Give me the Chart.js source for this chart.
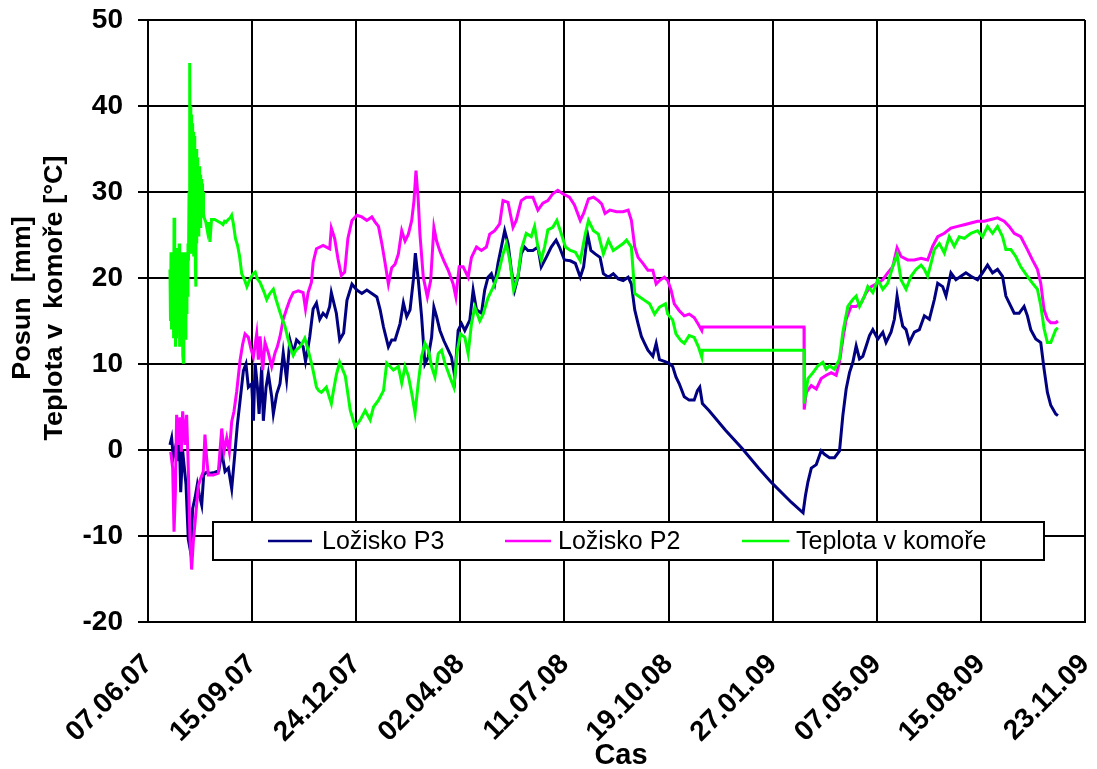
<!DOCTYPE html>
<html>
<head>
<meta charset="utf-8">
<script src="https://cdn.jsdelivr.net/npm/chart.js@4.4.0/dist/chart.umd.min.js"></script>
<style>html,body{margin:0;padding:0;background:#fff;}canvas{display:block;}</style>
</head>
<body>
<canvas id="c" width="1097" height="769"></canvas>
<script>
// x values are days since 07.06.07
const dateLabels = ['07.06.07','15.09.07','24.12.07','02.04.08','11.07.08','19.10.08','27.01.09','07.05.09','15.08.09','23.11.09'];
const seriesNames = ['Ložisko P3','Ložisko P2','Teplota v komoře'];
const seriesColors = ['#000080','#FF00FF','#00FF00'];

const loziskoP3 = [[21.1,0.6],[22.7,1.4],[24.3,-0.8],[26.9,0.6],[28.2,-1.3],[30.1,1.4],[31.4,-4.9],[33.3,-0.1],[34.6,-1.7],[36.5,-4.0],[38.7,-10.4],[41,-11.9],[42.9,-6.8],[45.1,-5.6],[47.4,-4.0],[49.3,-5.2],[51.6,-6.4],[53.5,-2.9],[56,-2.6],[60,-2.7],[64,-2.6],[68,-2.4],[70.8,-0.2],[74,-2.5],[77.2,-2.1],[80.4,-4.5],[83.6,-0.2],[85.8,2.9],[88.4,5.7],[91.6,9.2],[94.1,10.0],[96.4,7.3],[99.6,7.7],[101.3,3.4],[102.9,10.1],[105.1,7.3],[106.7,4.2],[109.2,9.7],[110.8,3.4],[113.4,7.3],[115.6,8.9],[118.8,6.2],[120.4,4.2],[123.6,6.5],[126.8,7.7],[129.9,11.3],[133.1,8.2],[136.3,12.8],[139.5,11.3],[142.7,12.8],[145.9,12.4],[149,12.0],[151.3,10.3],[153.8,12.0],[155.4,13.2],[158.6,16.4],[161.8,17.1],[165,15.2],[168.2,15.9],[171.3,15.5],[174.5,16.7],[176.1,18.3],[180.9,15.9],[184.1,12.8],[187.9,13.6],[191.1,17.4],[195.9,19.3],[200.6,18.6],[205.4,18.2],[210.2,18.6],[215,18.2],[219.8,17.8],[223,16.3],[226.2,14.3],[230.9,12.0],[234.1,12.8],[237.3,12.8],[242.1,14.7],[245.3,17.1],[248.5,15.5],[251.7,16.3],[254.9,19.8],[256.8,22.9],[259.6,19.8],[262.8,15.5],[266,10.0],[269.2,10.8],[272.4,13.1],[274.6,16.6],[277.2,15.5],[280.4,13.9],[284.2,12.7],[288.4,11.6],[291.5,10.8],[294.7,8.5],[297.9,13.9],[301.1,14.7],[304.3,13.9],[309.1,15.1],[312.3,18.6],[315.5,16.3],[320.3,15.9],[323.4,18.6],[326.6,20.1],[329.8,20.5],[333,19.3],[336.2,21.7],[339.4,23.6],[342.6,25.5],[345.8,24.0],[349,20.9],[352.2,18.6],[355.3,20.1],[358.5,22.8],[361.7,23.6],[364.9,23.2],[369.7,23.2],[374.5,23.6],[377.7,21.3],[382.5,22.4],[387.3,23.6],[392,24.4],[395.2,23.6],[400,22.1],[405.7,22.0],[410.5,21.7],[415.2,20.1],[418.4,21.3],[422.2,25.1],[425.4,23.2],[429.5,22.8],[434.2,22.4],[437.4,20.5],[442.2,20.1],[446.9,20.5],[451.7,19.9],[456.4,19.7],[461.2,20.1],[464.3,19.3],[467.5,16.3],[470.7,14.7],[473.9,13.2],[477,12.4],[480.2,11.6],[484.9,10.9],[488.1,12.4],[491.3,10.5],[496,10.3],[500.2,10.1],[504,9.7],[507.1,8.5],[510.3,7.7],[515.1,6.2],[519.8,5.8],[524.6,5.8],[527.7,6.9],[530,7.3],[532.5,5.4],[538.8,4.6],[554.7,2.3],[570.5,0.2],[586.4,-2.1],[599,-3.8],[618.1,-6.1],[629.2,-7.3],[631.5,-5.3],[633.9,-3.7],[637.1,-2.1],[641.9,-1.7],[646.6,-0.1],[649.8,-0.5],[654.6,-0.9],[659.4,-0.9],[664.2,-0.1],[667.4,4.0],[670.6,7.1],[673.8,9.0],[677,10.2],[680.2,12.1],[683.4,10.6],[686.6,10.9],[689.8,12.1],[693,13.3],[696.2,14.0],[701,12.9],[705.8,13.7],[708.9,12.5],[713.7,13.7],[716.9,15.2],[719.5,17.9],[721.7,16.3],[724.9,14.4],[728.1,14.0],[731.3,12.5],[736.1,13.7],[740.9,14.0],[745.7,15.6],[750.5,15.2],[755.3,17.5],[758.5,19.4],[763.3,19.0],[766.5,17.9],[771.2,20.6],[776,19.8],[780.8,20.2],[785.6,20.6],[790.4,20.2],[796.8,19.8],[801.6,20.6],[806.4,21.5],[811.2,20.6],[816,21.0],[820.8,20.2],[824,17.9],[828.8,16.7],[832,15.9],[836.7,15.9],[841.5,16.7],[844.7,15.6],[847.9,14.0],[852.7,12.9],[857.5,12.5],[860.7,9.4],[863.9,6.7],[867.1,5.2],[871.9,4.2],[874,4.0]];

const loziskoP2 = [[21.8,-0.2],[23.7,-2.1],[25,-9.5],[26.3,-4.9],[27.5,4.1],[29.1,0.6],[30.7,3.8],[32,-0.2],[33.3,4.5],[35.5,0.6],[37.1,4.1],[38.7,-2.1],[40.3,-10.3],[41.9,-13.9],[43.5,-10.7],[46.1,-7.2],[48.4,-4.1],[50.6,-3.3],[53.1,-2.5],[54.7,1.8],[56.3,-0.9],[57.9,-2.9],[62.7,-2.9],[67.5,-2.7],[70.8,2.5],[73,-0.2],[75.6,1.4],[78.1,-0.2],[80.4,3.3],[82.6,4.5],[85.2,6.8],[88.4,10.4],[90.9,12.3],[93.2,13.5],[96.4,13.1],[98.6,11.9],[101.2,10.8],[104.4,13.5],[106,10.5],[107.6,13.2],[110.2,9.3],[112.4,12.5],[115.6,11.3],[118.8,9.7],[122,11.3],[124.2,12.0],[126.8,13.2],[129.9,15.2],[133.1,16.4],[136.3,17.5],[139.5,18.3],[144.3,18.5],[149,18.3],[151.3,16.4],[153.8,18.3],[157,19.5],[158.6,21.8],[161.8,23.4],[168.2,23.8],[174.5,23.4],[176.1,25.8],[179.3,24.6],[182.5,22.2],[185.7,20.3],[188.9,20.7],[192,24.6],[195.9,26.7],[200.6,27.3],[205.4,27.1],[210.2,26.7],[215,27.1],[218.2,26.5],[221.4,26.0],[224.6,24.0],[227.8,21.7],[230.9,19.3],[234.1,21.2],[237.3,21.6],[240.5,22.8],[243.7,25.5],[246.9,24.3],[250.1,25.1],[253.3,26.7],[255.5,29.0],[257.4,32.5],[259.6,29.0],[261.2,25.1],[264.4,20.1],[268.3,17.8],[271.5,19.7],[274.6,25.9],[277.2,24.3],[280.4,23.1],[284.2,22.0],[288.4,20.9],[293.1,19.3],[295.7,17.8],[298.9,21.3],[302.7,21.3],[307.5,20.1],[310.7,22.4],[315.5,23.6],[320.3,23.2],[325,23.6],[328.2,25.1],[333,25.5],[337.8,26.3],[341,29.0],[345.8,28.8],[350.6,25.9],[353.7,26.7],[358.5,29.0],[363.3,29.4],[369.7,29.4],[374.5,27.9],[379.3,28.7],[384.1,29.0],[388.8,29.8],[393.6,30.2],[398.4,29.8],[404.8,29.4],[409.6,28.5],[415.2,26.7],[418.4,27.5],[423.1,29.2],[427.9,29.4],[432.6,29.0],[435.8,28.6],[439,27.5],[443.7,27.9],[450.1,27.7],[456.4,27.7],[461.2,27.9],[464.3,26.7],[467.5,23.6],[470.7,22.4],[475.4,21.7],[480.2,20.9],[484.9,20.9],[488.1,19.3],[491.3,19.7],[496,20.1],[499.2,19.7],[502.4,18.6],[505.5,17.0],[510.3,16.2],[515.1,15.6],[519.8,15.8],[524.6,15.4],[528.7,14.6],[531.9,13.9],[532.5,14.3],[630.1,14.3],[630.3,4.7],[632.3,6.7],[637.1,7.5],[641.9,7.1],[646.6,8.3],[651.4,8.7],[656.2,9.0],[661,8.7],[664.2,10.2],[667.4,12.9],[670.6,15.2],[675.4,16.7],[680.2,16.7],[685,17.1],[689.8,18.3],[694.6,19.0],[701,19.4],[705.8,19.8],[710.5,20.6],[715.3,21.3],[719.5,23.5],[723.3,22.5],[729.7,22.1],[736.1,22.1],[742.5,22.3],[748.9,22.1],[753.7,23.7],[758.5,24.8],[764.9,25.2],[771.2,25.8],[777.6,26.0],[784,26.2],[790.4,26.4],[796.8,26.6],[803.2,26.6],[809.6,26.8],[816,27.0],[822.4,26.6],[827.2,26.0],[832,25.2],[838.3,24.8],[844.7,23.3],[849.5,22.1],[854.3,21.0],[857.5,19.4],[860.7,16.3],[863.9,15.2],[867.1,14.8],[871.9,14.8],[874,15.0]];

const teplota = [[21.1,21],[21.6,15],[22.1,23],[22.6,14],[23.1,22],[23.6,16],[24.1,23],[24.6,13],[25.0,27],[25.4,15],[25.9,23],[26.4,12],[26.9,22],[27.4,13],[27.9,23.5],[28.4,15],[28.9,23],[29.4,14],[29.9,24],[30.4,12],[30.9,23],[31.4,14],[31.9,22],[32.4,12],[32.9,23],[33.4,11],[33.9,10.2],[34.4,22],[34.9,14],[35.4,23],[35.9,13],[36.4,22],[36.9,16],[37.4,23],[37.9,18],[38.4,24],[38.9,22],[39.4,30],[39.8,23],[40.3,45],[40.7,24],[41.1,40],[41.5,23],[41.9,39],[42.3,24],[42.7,38],[43.1,23],[43.5,37],[43.9,22.5],[44.3,36.5],[44.7,24],[45.1,35.5],[45.5,21],[46.0,19],[46.4,35],[46.8,24],[47.2,34],[47.6,25],[48.0,33.5],[48.4,25],[48.8,33],[49.2,26],[49.6,33],[50.0,26],[50.4,32],[50.8,26.5],[51.2,31.5],[51.6,27],[52.0,31],[52.4,27],[52.9,30],[53.3,27.5],[54.0,27],[55.5,26.5],[57.0,25.5],[58.0,26.5],[59.5,24.2],[61.0,26.8],[64.0,26.8],[67.0,26.6],[70.0,26.4],[72.0,26.2],[73.5,26.6],[75.0,26.5],[77.0,26.8],[79.0,27],[80.4,27.3],[82,26.3],[84,24.6],[86,23.8],[88,22.5],[90,20.5],[91.6,20.1],[93,19.7],[95,19],[97,19.6],[99,20.1],[101,20.5],[103,20.7],[105,19.9],[107.6,19.5],[110,18.8],[112,18.2],[114,17.5],[117,18.2],[120.4,18.7],[123,17.5],[126.8,16],[129,15.2],[131.5,14.4],[134.7,12.8],[137,11.8],[139.5,11],[142,11.6],[145.9,12],[148,12.4],[150.6,13],[152,12.4],[153.8,11.6],[157,10.1],[159,9],[161.8,7.3],[164,6.9],[166.6,6.7],[169,7.0],[171.3,7.3],[174,6.2],[176.1,5.4],[178,6.8],[181,8.8],[184.1,10.2],[189.5,8.6],[194.3,4.6],[199,2.7],[203.8,3.5],[208.6,4.6],[213.4,3.5],[216.6,5.0],[221.4,5.8],[226.2,6.9],[229.3,10.1],[232.5,9.7],[235.7,9.3],[240.5,9.7],[243.7,7.8],[246.9,9.7],[250.1,8.6],[253.3,6.6],[256.5,4.3],[259.6,7.8],[262.8,10.9],[266,12.4],[269.2,11.7],[272.4,9.7],[275.6,8.5],[278.8,11.2],[282,11.6],[285.2,10.1],[290,8.5],[293.8,7.3],[297,11.5],[300.2,13.5],[304.3,13.1],[307.5,11.2],[310.7,14.7],[313.9,16.6],[318.7,15.0],[321.9,15.8],[326.6,17.7],[331.4,18.9],[336.2,20.4],[341,22.8],[344.2,24],[347.4,22.1],[351.2,18.6],[355.4,20.2],[358.5,23.3],[363.3,25.2],[368.1,24.8],[371.3,26.0],[374.5,23.6],[377.7,22.1],[380.9,23.6],[384.1,25.6],[388.8,25.9],[392.7,26.7],[396.8,25.2],[401,23.6],[405.7,23.2],[410.5,23.0],[415.2,22.0],[420,25.1],[423.1,26.7],[427.9,25.5],[432.6,25.1],[437.4,22.8],[442.2,24.4],[446.9,23.2],[451.7,23.6],[456.4,24.0],[459.6,24.4],[464.3,23.6],[467.5,18.2],[472.3,17.8],[477,17.4],[481.8,17.0],[486.6,15.8],[491.3,16.6],[497,17.0],[499.2,15.8],[504,15.1],[507.1,13.5],[511.9,12.7],[515.1,12.4],[519.8,13.3],[524.6,13.1],[528.7,12.0],[531.9,10.8],[532.5,11.6],[630.1,11.6],[630.3,5.4],[633.9,8.3],[638.7,9.0],[643.5,9.8],[648.2,10.2],[651.4,9.4],[654.6,9.8],[659.4,9.4],[664.2,10.6],[667.4,13.7],[672.2,16.7],[677,17.5],[680.2,17.9],[683.4,16.7],[688.2,17.9],[691.4,19.0],[696.2,18.3],[701,19.8],[705.8,18.7],[710.5,19.4],[715.3,21.3],[719.5,22.7],[723.3,19.8],[728.1,18.7],[732.9,20.2],[737.7,21.0],[742.5,21.5],[745.7,21.0],[748.9,20.2],[752.1,21.7],[755.3,23.3],[760.1,24.0],[764.9,22.9],[769.6,24.8],[774.4,23.7],[779.2,24.8],[784,24.6],[790.4,25.2],[796.8,25.5],[801.6,24.8],[806.4,26.0],[811.2,25.2],[816,26.0],[820.8,24.8],[824,23.3],[828.8,23.3],[833.5,22.5],[838.3,21.3],[844.7,20.2],[849.5,19.4],[854.3,18.7],[857.5,16.8],[860.7,14.1],[863.9,12.5],[867.1,12.5],[871.9,14.0],[874,14.2]];

const FONT = '"Liberation Sans", Arial, sans-serif';

const overlayPlugin = {
  id: 'overlay',
  afterDraw(chart) {
    const ctx = chart.ctx;
    ctx.save();
    // legend box inside plot
    const bx = 213, by = 522, bw = 831, bh = 38;
    ctx.fillStyle = '#fff';
    ctx.fillRect(bx, by, bw, bh);
    ctx.lineWidth = 2;
    ctx.strokeStyle = '#000';
    ctx.strokeRect(bx, by, bw, bh);
    const items = [[268, 312, 322], [505, 551, 558], [742, 789, 796]];
    const ly = by + bh / 2;
    chart.data.datasets.forEach((ds, i) => {
      const [x1, x2, tx] = items[i];
      ctx.strokeStyle = ds.borderColor;
      ctx.lineWidth = 2.5;
      ctx.beginPath(); ctx.moveTo(x1, ly); ctx.lineTo(x2, ly); ctx.stroke();
      ctx.fillStyle = '#000';
      ctx.font = '25px ' + FONT;
      ctx.textAlign = 'left';
      ctx.textBaseline = 'middle';
      ctx.fillText(ds.label, tx, ly + 1);
    });
    ctx.restore();
    // y axis title (two lines, rotated)
    ctx.save();
    ctx.fillStyle = '#000';
    ctx.font = 'bold 25px ' + FONT;
    ctx.textAlign = 'center';
    ctx.textBaseline = 'alphabetic';
    ctx.translate(0, 298);
    ctx.rotate(-Math.PI / 2);
    ctx.scale(1.08, 1);
    ctx.fillText('Posun  [mm]', 0, 30);
    ctx.fillText('Teplota v  komoře [°C]', 0, 62);
    ctx.restore();
    // x axis title
    ctx.save();
    ctx.fillStyle = '#000';
    ctx.font = 'bold 29px ' + FONT;
    ctx.textAlign = 'center';
    ctx.textBaseline = 'alphabetic';
    ctx.fillText('Cas', 621, 764);
    ctx.restore();
  }
};

const mk = (arr) => arr.map(([x, y]) => ({x, y}));

new Chart(document.getElementById('c'), {
  type: 'line',
  data: {
    datasets: [
      {label: seriesNames[0], data: mk(loziskoP3), borderColor: seriesColors[0], order: 3},
      {label: seriesNames[1], data: mk(loziskoP2), borderColor: seriesColors[1], order: 2},
      {label: seriesNames[2], data: mk(teplota), borderColor: seriesColors[2], order: 1}
    ]
  },
  options: {
    responsive: false,
    animation: false,
    devicePixelRatio: 1,
    layout: {padding: {left: 0, right: 12, top: 20, bottom: 0}},
    elements: {
      line: {borderWidth: 3, tension: 0, fill: false},
      point: {radius: 0, hoverRadius: 0}
    },
    plugins: {legend: {display: false}, tooltip: {enabled: false}},
    scales: {
      x: {
        type: 'linear', min: 0, max: 900,
        afterFit: (s) => { s.height = 147; s.paddingLeft = 0; s.paddingRight = 0; },
        ticks: {
          stepSize: 100, autoSkip: false, minRotation: 45, maxRotation: 45,
          padding: 26, color: '#000',
          font: {family: FONT, size: 28, weight: 'bold'},
          callback: (v) => dateLabels[Math.round(v / 100)]
        },
        grid: {color: '#000', lineWidth: 2, drawTicks: false},
        border: {color: '#000', width: 2}
      },
      y: {
        min: -20, max: 50,
        afterFit: (s) => { s.width = 148; s.paddingTop = 0; s.paddingBottom = 0; },
        ticks: {stepSize: 10, padding: 15, color: '#000', font: {family: FONT, size: 28, weight: 'bold'}},
        grid: {color: '#000', lineWidth: 2, tickLength: 10},
        border: {color: '#000', width: 2}
      }
    }
  },
  plugins: [overlayPlugin]
});
</script>
</body>
</html>
